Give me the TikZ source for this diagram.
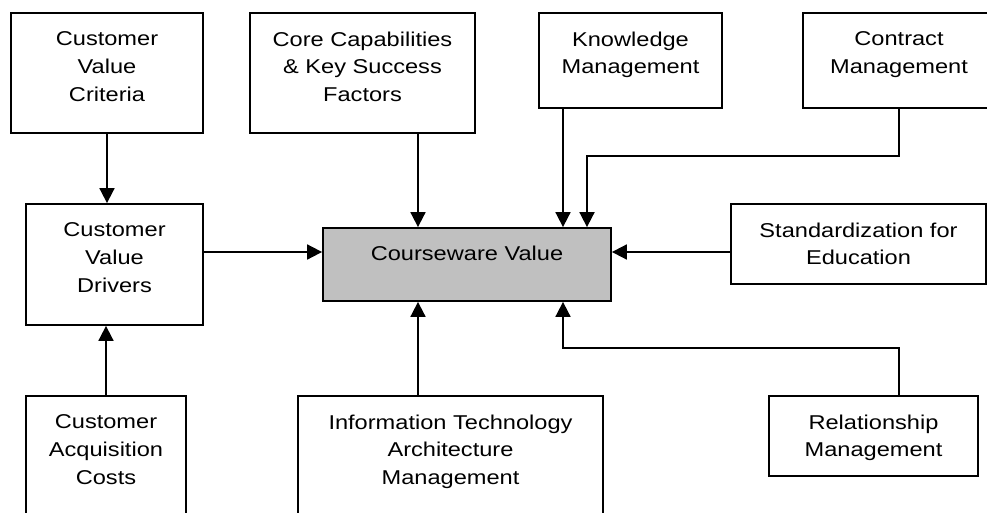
\documentclass[tikz,border=0pt]{standalone}
\usepackage{fontspec}
\setmainfont{Liberation Sans}[FakeStretch=1.18]
\usetikzlibrary{arrows.meta}

\tikzstyle{box}=[draw, line width=1.8pt, inner sep=0pt]
\tikzstyle{txt}=[anchor=north, inner sep=0pt, align=center, font=\fontsize{20}{27.7}\selectfont]
\tikzstyle{arrow}=[line width=1.8pt, -{Triangle[length=15pt,width=15pt]}]

\begin{document}
\begin{tikzpicture}[x=1pt, y=-1pt]
    \clip (0,0) rectangle (987,513);

    % boxes
    \node[box, minimum width=192pt, minimum height=120pt] (cvc) at (107,73) {};
    \node[box, minimum width=225pt, minimum height=120pt] (ccf) at (362.5,73) {};
    \node[box, minimum width=183pt, minimum height=95pt] (km) at (630.5,60.5) {};
    \node[box, minimum width=192pt, minimum height=95pt] (cm) at (899,60.5) {};
    \node[box, minimum width=177pt, minimum height=121pt] (cvd) at (114.5,264.5) {};
    \node[box, fill={rgb,255:red,192;green,192;blue,192}, minimum width=288pt, minimum height=73pt] (cwv) at (467,264.5) {};
    \node[box, minimum width=255pt, minimum height=80pt] (sfe) at (858.5,244) {};
    \node[box, minimum width=160pt, minimum height=140pt] (cac) at (106,466) {};
    \node[box, minimum width=305pt, minimum height=140pt] (ita) at (450.5,466) {};
    \node[box, minimum width=209pt, minimum height=80pt] (rm) at (873.5,436) {};

    % texts
    \node[txt] (cvc-t) at ([yshift=-19.5pt]cvc.north) {Customer\\Value\\Criteria};
    \node[txt] (ccf-t) at ([yshift=-19.5pt]ccf.north) {Core Capabilities\\\& Key Success\\Factors};
    \node[txt] (km-t) at ([yshift=-19.5pt]km.north) {Knowledge\\Management};
    \node[txt] (cm-t) at ([yshift=-19.5pt]cm.north) {Contract\\Management};
    \node[txt] (cvd-t) at ([yshift=-19.5pt]cvd.north) {Customer\\Value\\Drivers};
    \node[txt] (cwv-t) at ([yshift=-18.7pt]cwv.north) {Courseware Value};
    \node[txt] (sfe-t) at ([yshift=-19.5pt]sfe.north) {Standardization for\\Education};
    \node[txt] (cac-t) at ([yshift=-19.5pt]cac.north) {Customer\\Acquisition\\Costs};
    \node[txt] (ita-t) at ([yshift=-19.5pt]ita.north) {Information Technology\\Architecture\\Management};
    \node[txt] (rm-t) at ([yshift=-19.5pt]rm.north) {Relationship\\Management};

    % connector columns and bends
    \coordinate (colL) at (418,0);
    \coordinate (colK) at (563,0);
    \coordinate (colM) at (899,0);
    \coordinate (rowH) at (0,252);
    \coordinate (bendC) at (587,156);
    \coordinate (bendR) at (563,348);

    \draw[arrow] (cvc.south) -- (cvc.south |- cvd.north);
    \draw[arrow] (cac.north) -- (cac.north |- cvd.south);
    \draw[arrow] (cvd.east |- rowH) -- (cwv.west |- rowH);
    \draw[arrow] (sfe.west |- rowH) -- (cwv.east |- rowH);
    \draw[arrow] (ccf.south -| colL) -- (cwv.north -| colL);
    \draw[arrow] (ita.north -| colL) -- (cwv.south -| colL);
    \draw[arrow] (km.south -| colK) -- (cwv.north -| colK);
    \draw[arrow] (cm.south -| colM) |- (bendC) -- (cwv.north -| bendC);
    \draw[arrow] (rm.north -| colM) |- (bendR) -- (cwv.south -| bendR);
  \end{tikzpicture}
\end{document}
